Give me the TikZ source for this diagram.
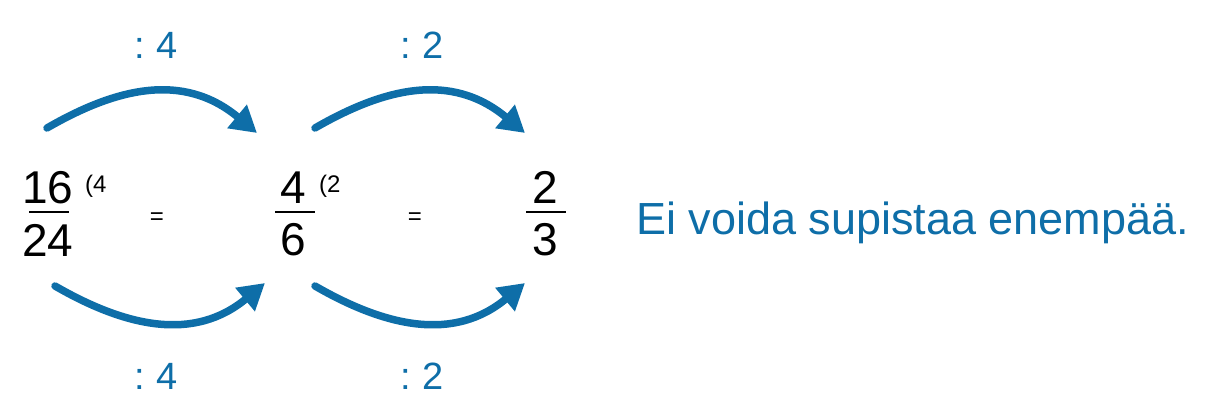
\documentclass[tikz,border=0pt]{standalone}
\usepackage{fontspec}
\setmainfont{Liberation Sans}
\usetikzlibrary{arrows.meta}
\definecolor{fblue}{RGB}{14,110,168}
\begin{document}
\begin{tikzpicture}[x=1pt,y=-1pt,
  digit/.style={inner sep=0pt, anchor=base, font=\fontsize{46}{46}\selectfont},
  supnote/.style={inner sep=0pt, anchor=base west, font=\fontsize{24}{24}\selectfont},
  eqsign/.style={inner sep=0pt, anchor=base, font=\fontsize{24}{24}\selectfont},
  oplabel/.style={inner sep=0pt, anchor=base, text=fblue, font=\fontsize{38}{38}\selectfont},
  note/.style={inner sep=0pt, anchor=base west, text=fblue, font=\fontsize{45}{45}\selectfont},
  fbar/.style={line width=2.3pt, draw=black},
  arr/.style={draw=fblue, line width=7.5pt, line cap=round, -{Triangle[length=26pt,width=29pt]}}
]
\useasboundingbox (0,0) rectangle (1232,412);

% fractions
\node[digit] (n1) at (48,203) {16};
\node[digit] (d1) at (48,256) {24};
\draw[fbar] (29,212) -- (69,212);
\node[supnote] (s1) at (85,192) {(4};
\node[eqsign] (e1) at (157,224) {=};

\node[digit] (n2) at (293,203) {4};
\node[digit] (d2) at (293,255) {6};
\draw[fbar] (275,212) -- (315,212);
\node[supnote] (s2) at (319,192) {(2};
\node[eqsign] (e2) at (415,224) {=};

\node[digit] (n3) at (545,203) {2};
\node[digit] (d3) at (545,255) {3};
\draw[fbar] (526,212) -- (566,212);

\node[note] (txt) at (636,234) {Ei voida supistaa enempää.};

% operation labels
\node[oplabel] (la1) at (156,59) {:\hspace{11pt}4};
\node[oplabel] (la2) at (422,59) {:\hspace{11pt}2};
\node[oplabel] (lb1) at (156,389) {:\hspace{11pt}4};
\node[oplabel] (lb2) at (422,389) {:\hspace{11pt}2};

% arrow end points
\coordinate (t1s) at (47,128);  \coordinate (t1e) at (257,133);
\coordinate (t2s) at (315,128); \coordinate (t2e) at (525,133);
\coordinate (b1s) at (55,286);  \coordinate (b1e) at (265,283);
\coordinate (b2s) at (315,286); \coordinate (b2e) at (525,283);

\draw[arr] (t1s) .. controls +(68.8,-39.7) and +(-74.1,-61.6) .. (t1e);
\draw[arr] (t2s) .. controls +(68.8,-39.7) and +(-74.1,-61.6) .. (t2e);
\draw[arr] (b1s) .. controls +(71,41) and +(-71,59) .. (b1e);
\draw[arr] (b2s) .. controls +(71,41) and +(-71,59) .. (b2e);
\end{tikzpicture}
\end{document}
